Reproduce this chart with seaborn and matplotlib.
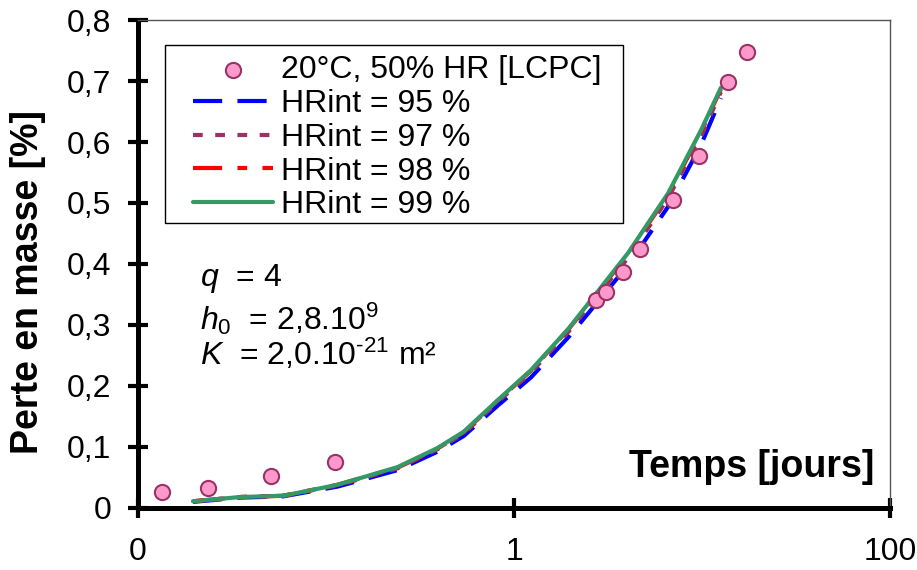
import matplotlib
matplotlib.use('Agg')
import matplotlib.pyplot as plt
from matplotlib.patches import Rectangle
import seaborn as sns

## Experimental points, 20°C, 50% HR [LCPC]
t_exp = [0.0134, 0.0236, 0.0509, 0.112, 2.73, 3.09, 3.80, 4.68, 7.01, 9.64, 13.7, 17.3]
loss_exp = [0.026, 0.033, 0.052, 0.075, 0.341, 0.354, 0.387, 0.425, 0.505, 0.577, 0.698, 0.748]

## Simulated mass loss for each internal RH
t_sim = [0.0196, 0.035, 0.059, 0.115, 0.24, 0.39, 0.54, 0.82, 1.23, 1.96, 4.04, 6.6, 9.9, 12.6]
loss_95 = [0.010, 0.017, 0.019, 0.035, 0.062, 0.092, 0.118, 0.168, 0.214, 0.281, 0.398, 0.494, 0.596, 0.672]
loss_97 = [0.011, 0.018, 0.020, 0.037, 0.065, 0.096, 0.122, 0.174, 0.222, 0.290, 0.410, 0.508, 0.610, 0.682]
loss_98 = [0.011, 0.018, 0.020, 0.038, 0.066, 0.097, 0.124, 0.176, 0.225, 0.294, 0.416, 0.514, 0.617, 0.687]
loss_99 = [0.011, 0.018, 0.020, 0.038, 0.067, 0.098, 0.125, 0.177, 0.226, 0.295, 0.418, 0.516, 0.620, 0.689]

labels = ['HRint = 95 %', 'HRint = 97 %', 'HRint = 98 %', 'HRint = 99 %']
colors = ['#0000FF', '#993366', '#FF0000', '#339966']
styles = [(0, (21, 11)), (0, (7, 9)), (0, (21, 11, 7, 11)), '-']

y_ticks = [0, 0.1, 0.2, 0.3, 0.4, 0.5, 0.6, 0.7, 0.8]
y_ticklabels = ['0', '0,1', '0,2', '0,3', '0,4', '0,5', '0,6', '0,7', '0,8']
x_ticks = [0.01, 1, 100]
x_ticklabels = ['0', '1', '100']

sns.set_theme(style='white')
plt.rcParams['font.family'] = ['Liberation Sans', 'DejaVu Sans']
plt.rcParams['mathtext.fontset'] = 'custom'
plt.rcParams['mathtext.rm'] = 'Liberation Sans'
plt.rcParams['mathtext.it'] = 'Liberation Sans:italic'
plt.rcParams['lines.scale_dashes'] = False
for key in ['text.color', 'axes.labelcolor', 'xtick.color', 'ytick.color']:
    plt.rcParams[key] = 'black'

fig, ax = plt.subplots(figsize=(9.17, 5.70), dpi=100)
fig.subplots_adjust(left=0.1505, right=0.9706, top=0.9649, bottom=0.1088)

for y, lab, c, ls in zip([loss_95, loss_97, loss_98, loss_99], labels, colors, styles):
    sns.lineplot(x=t_sim, y=y, ax=ax, color=c, linewidth=3, linestyle=ls,
                 label=lab, estimator=None, sort=False)

sns.scatterplot(x=t_exp, y=loss_exp, ax=ax, s=120, color='#FF99CC',
                edgecolor='#993366', linewidth=1.5, label='20°C, 50% HR [LCPC]', zorder=5)

ax.set_xscale('log')
ax.set_xlim(0.01, 100)
ax.set_ylim(0, 0.8)
ax.set_xticks(x_ticks)
ax.set_xticklabels(x_ticklabels)
ax.xaxis.set_minor_locator(matplotlib.ticker.NullLocator())
ax.set_yticks(y_ticks)
ax.set_yticklabels(y_ticklabels)

ax.tick_params(axis='both', which='major', direction='inout', length=14, width=3,
               color='black', labelsize=23, left=True, bottom=True)
ax.tick_params(axis='x', pad=14)
ax.tick_params(axis='y', pad=12)

for side in ['left', 'bottom']:
    ax.spines[side].set_linewidth(3.6)
    ax.spines[side].set_color('black')
for side in ['top', 'right']:
    ax.spines[side].set_linewidth(1)
    ax.spines[side].set_color('#555555')

ax.set_xlabel('')
ax.set_ylabel('Perte en masse [%]', fontsize=27, fontweight='bold')
ax.yaxis.set_label_coords(-0.122, 0.463)
ax.text(0.979, 0.084, 'Temps [jours]', transform=ax.transAxes, ha='right', va='center',
        fontsize=27, fontweight='bold')

ax.text(0.083, 0.47, r'$q$  = 4', transform=ax.transAxes, fontsize=23, va='center')
ax.text(0.083, 0.388, r'$h_0$  = 2,8.10$^9$', transform=ax.transAxes, fontsize=23, va='center')
ax.text(0.083, 0.315, r'$K$  = 2,0.10$^{\text{-21}}$ m²', transform=ax.transAxes, fontsize=23, va='center')

## legend frame drawn by hand, legend itself without frame
ax.add_patch(Rectangle((0.0359, 0.584), 0.609, 0.365, transform=ax.transAxes,
                       facecolor='white', edgecolor='black', linewidth=1, zorder=6))

handles, labs = ax.get_legend_handles_labels()
order = [4, 0, 1, 2, 3]
leg = ax.legend([handles[i] for i in order], [labs[i] for i in order],
                loc='upper left', bbox_to_anchor=(0.0731, 0.928), borderaxespad=0,
                fontsize=23, frameon=False,
                handlelength=2.5, handletextpad=0.25, labelspacing=0.12, borderpad=0,
                scatterpoints=1)
leg.set_zorder(7)

fig.savefig('out.png', dpi=100)
